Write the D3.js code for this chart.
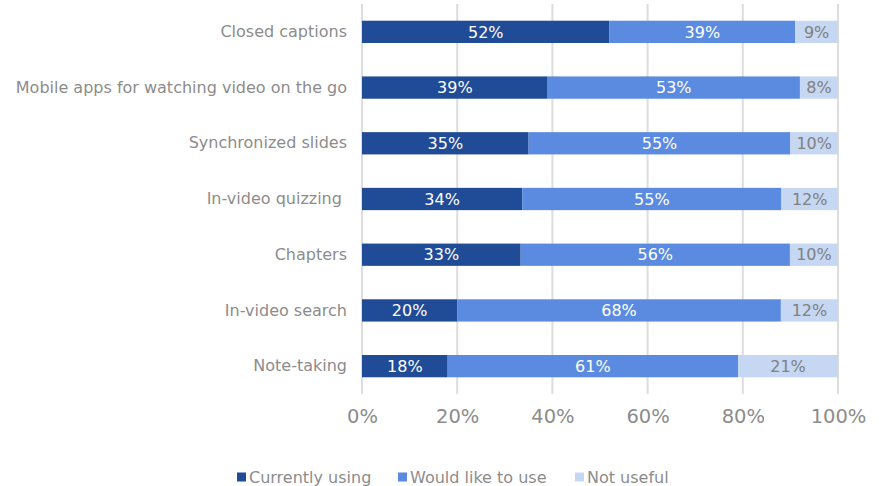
<!DOCTYPE html>
<html>
<head>
<meta charset="utf-8">
<script src="https://cdn.jsdelivr.net/npm/d3@7"></script>
<style>
  html, body { margin: 0; padding: 0; background: #fff; }
  svg { display: block; font-family: "DejaVu Sans", Verdana, sans-serif; }
</style>
</head>
<body>
<svg id="chart" width="883" height="486"></svg>
<script>
// Video feature adoption survey, shares of respondents (%)
const features = [
  "Closed captions",
  "Mobile apps for watching video on the go",
  "Synchronized slides",
  "In-video quizzing ",
  "Chapters",
  "In-video search",
  "Note-taking"
];
const currentlyUsing = [52, 39, 35, 34, 33, 20, 18];
const wouldLikeToUse = [39, 53, 55, 55, 56, 68, 61];
const notUseful      = [9, 8, 10, 12, 10, 12, 21];
const seriesNames = ["Currently using", "Would like to use", "Not useful"];
const tickLabels = ["0%", "20%", "40%", "60%", "80%", "100%"];

const colors = ["#1f4b97", "#5a8be0", "#c5d7f2"];
const labelColors = ["#ffffff", "#ffffff", "#808080"];
const textGrey = "#8c8c8c";

const rows = features.map((f, i) => ({
  feature: f,
  s0: currentlyUsing[i],
  s1: wouldLikeToUse[i],
  s2: notUseful[i]
}));
const keys = ["s0", "s1", "s2"];

// each bar is a 100% stack of its three shares
const stacked = d3.stack().keys(keys).offset(d3.stackOffsetExpand)(rows);

const svg = d3.select("#chart");
const plotLeft = 362, plotRight = 838, plotTop = 4, plotBottom = 394;

const x = d3.scaleLinear().domain([0, 1]).range([plotLeft, plotRight]);
const y = d3.scaleBand().domain(features).range([plotTop, plotBottom]).paddingInner(0.6).paddingOuter(0.3);

// vertical gridlines
const tickVals = [0, 0.2, 0.4, 0.6, 0.8, 1];
svg.append("g")
  .selectAll("line")
  .data(tickVals)
  .join("line")
  .attr("x1", d => x(d)).attr("x2", d => x(d))
  .attr("y1", plotTop).attr("y2", plotBottom)
  .attr("stroke", "#dddddd")
  .attr("stroke-width", 2);

// x axis tick labels
const xAxis = d3.axisBottom(x).tickValues(tickVals)
  .tickFormat((d, i) => tickLabels[i]).tickSize(0).tickPadding(0);
const gx = svg.append("g").attr("transform", `translate(0,${plotBottom + 15})`).call(xAxis);
gx.select(".domain").remove();
gx.selectAll("text")
  .attr("font-family", "DejaVu Sans, Verdana, sans-serif")
  .attr("font-size", 19.5).attr("fill", textGrey);

// category labels
const yAxis = d3.axisLeft(y).tickSize(0).tickPadding(15);
const gy = svg.append("g").attr("transform", `translate(${plotLeft},0)`).call(yAxis);
gy.select(".domain").remove();
gy.selectAll("text")
  .attr("font-family", "DejaVu Sans, Verdana, sans-serif")
  .attr("font-size", 16).attr("fill", textGrey)
  .style("white-space", "pre");

// stacked bars
const layers = svg.append("g").selectAll("g")
  .data(stacked)
  .join("g")
  .attr("fill", (d, i) => colors[i]);

layers.selectAll("rect")
  .data(d => d)
  .join("rect")
  .attr("x", d => x(d[0]))
  .attr("width", d => x(d[1]) - x(d[0]))
  .attr("y", d => y(d.data.feature))
  .attr("height", y.bandwidth());

// value labels centred in each segment
stacked.forEach((layer, li) => {
  svg.append("g").selectAll("text")
    .data(layer)
    .join("text")
    .attr("x", d => (x(d[0]) + x(d[1])) / 2)
    .attr("y", d => y(d.data.feature) + y.bandwidth() / 2)
    .attr("dy", "0.36em")
    .attr("text-anchor", "middle")
    .attr("font-size", 16)
    .attr("fill", labelColors[li])
    .text(d => d.data[keys[li]] + "%");
});

// legend
const legendX = [237, 398, 575];
const legend = svg.append("g").selectAll("g")
  .data(seriesNames)
  .join("g")
  .attr("transform", (d, i) => `translate(${legendX[i]},477)`);
legend.append("rect")
  .attr("x", 0).attr("y", -4.5).attr("width", 9).attr("height", 9)
  .attr("fill", (d, i) => colors[i]);
legend.append("text")
  .attr("x", 12).attr("dy", "0.36em")
  .attr("font-size", 16).attr("fill", textGrey)
  .text(d => d);
</script>
</body>
</html>
